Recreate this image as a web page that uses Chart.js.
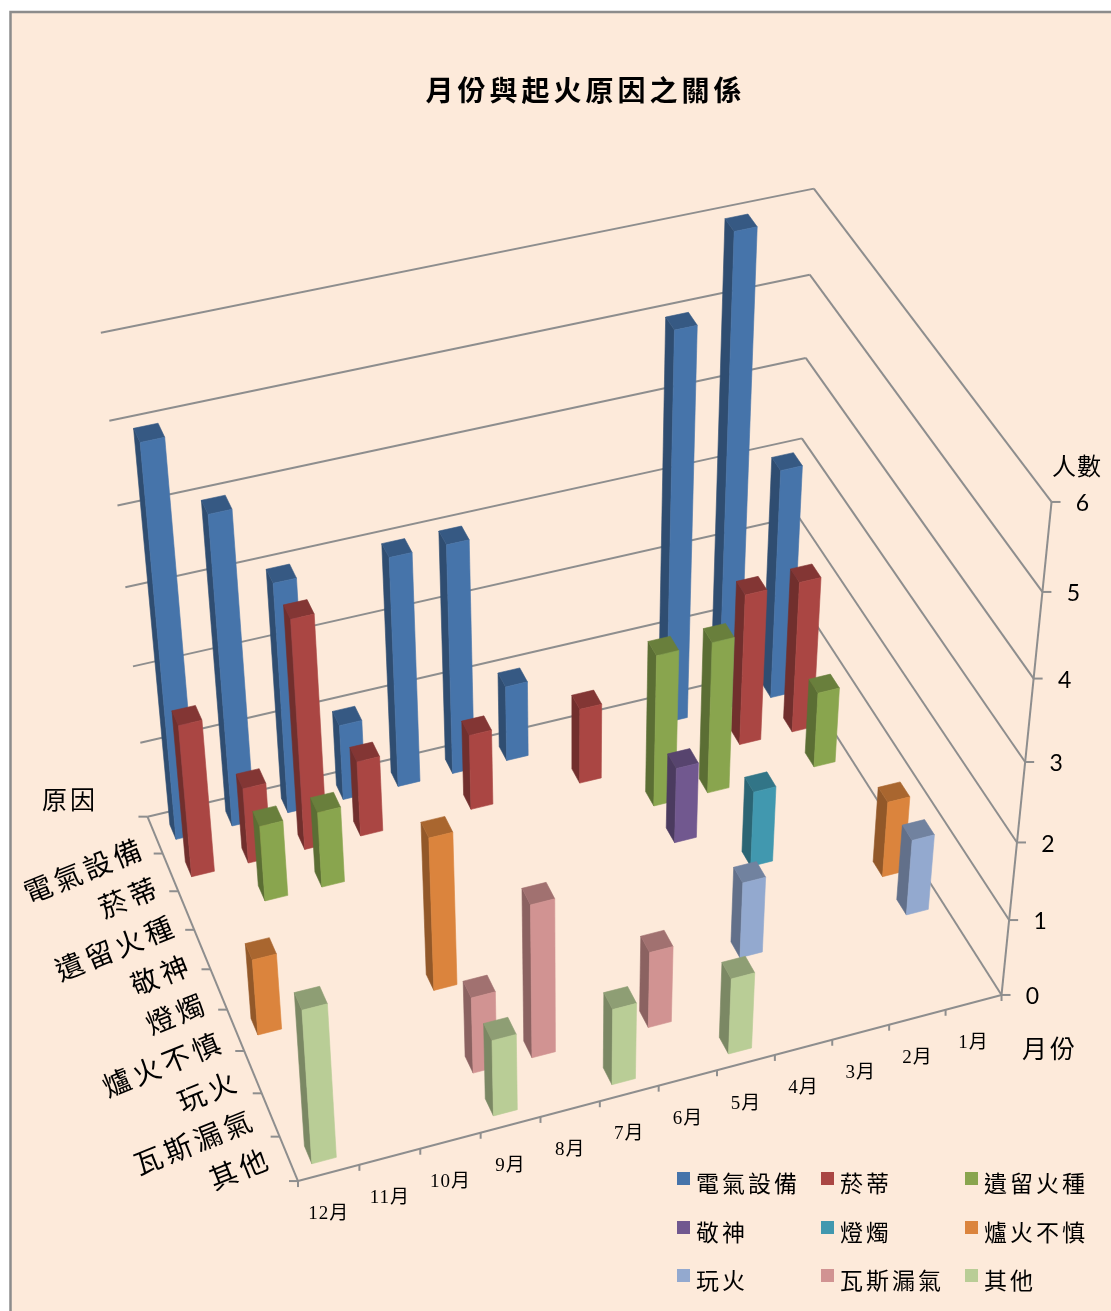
<!DOCTYPE html>
<html>
<head>
<meta charset="utf-8">
<title>月份與起火原因之關係</title>
<script src="https://cdn.jsdelivr.net/npm/chart.js@4/dist/chart.umd.min.js"></script>
<style>
  html, body { margin: 0; padding: 0; background: #fff; }
  canvas { display: block; }
</style>
</head>
<body>
<canvas id="fire-chart" width="1111" height="1311"></canvas>
<script>
const months = ['1月', '2月', '3月', '4月', '5月', '6月', '7月', '8月', '9月', '10月', '11月', '12月'];
const causes = ['電氣設備', '菸蒂', '遺留火種', '敬神', '燈燭', '爐火不慎', '玩火', '瓦斯漏氣', '其他'];

// one list per cause, January to December
const electrical = [3, 6, 5, null, null, 1, 3, 3, 1, 3, 4, 5];
const cigarette = [2, 2, null, null, 1, null, 1, null, 1, 3, 1, 2];
const leftoverEmber = [1, null, 2, 2, null, null, null, null, null, 1, 1, null];
const worship = [null, null, null, 1, null, null, null, null, null, null, null, null];
const candle = [null, null, 1, null, null, null, null, null, null, null, null, null];
const stove = [1, null, null, null, null, null, null, null, 2, null, null, 1];
const playingFire = [1, null, null, 1, null, null, null, null, null, null, null, null];
const gasLeak = [null, null, null, null, null, 1, null, 2, 1, null, null, null];
const other = [null, null, null, null, 1, null, 1, null, 1, null, null, 2];

const causeValues = [electrical, cigarette, leftoverEmber, worship, candle, stove, playingFire, gasLeak, other];
const causeColors = ['#4674AA', '#AA4643', '#89A54E', '#71588F', '#4198AF', '#DB843D', '#93A9CF', '#D19392', '#B9CD96'];

const CJK = '"Noto Sans CJK TC"';
const LINE = '#8E8E8E';

// Camera for the box: [u, w, v, px, py], u left->right, w back->front, v floor->top
const cameraRefs = [
  [0, 1, 0, 298, 1181], [1 / 6, 1, 0, 422, 1149], [1 / 2, 1, 0, 660, 1087], [5 / 6, 1, 0, 890, 1025], [1, 1, 0, 1001, 995],
  [0, 0, 0, 148, 816], [1, 0, 0, 790, 665],
  [0, 1 / 3, 0, 192, 929], [0, 2 / 3, 0, 243, 1050],
  [1, 1, 1 / 6, 1009, 920], [1, 1, 1 / 3, 1017, 842], [1, 1, 1 / 2, 1025, 762], [1, 1, 2 / 3, 1033, 678], [1, 1, 5 / 6, 1042, 592], [1, 1, 1, 1051, 502],
  [1, 0, 1 / 2, 802, 439], [1, 0, 2 / 3, 806, 357], [1, 0, 5 / 6, 810, 275], [1, 0, 1, 815, 188],
  [0, 0, 1 / 6, 141, 743], [0, 0, 1 / 3, 133, 666], [0, 0, 1 / 2, 126, 588], [0, 0, 2 / 3, 118, 506], [0, 0, 5 / 6, 109, 421], [0, 0, 1, 100, 333]
];

// least squares DLT with the last matrix entry fixed at 1
function fitCamera(refs) {
  const n = 11;
  const A = Array.from({ length: n }, () => new Array(n + 1).fill(0));
  const add = (row, rhs) => {
    for (let i = 0; i < n; i++) {
      for (let j = 0; j < n; j++) A[i][j] += row[i] * row[j];
      A[i][n] += row[i] * rhs;
    }
  };
  refs.forEach(([u, w, v, px, py]) => {
    const x = px / 1000;
    const y = py / 1000;
    add([u, w, v, 1, 0, 0, 0, 0, -x * u, -x * w, -x * v], x);
    add([0, 0, 0, 0, u, w, v, 1, -y * u, -y * w, -y * v], y);
  });
  for (let c = 0; c < n; c++) {
    let best = c;
    for (let r = c + 1; r < n; r++) if (Math.abs(A[r][c]) > Math.abs(A[best][c])) best = r;
    [A[c], A[best]] = [A[best], A[c]];
    for (let r = 0; r < n; r++) {
      if (r === c) continue;
      const f = A[r][c] / A[c][c];
      for (let k = c; k <= n; k++) A[r][k] -= f * A[c][k];
    }
  }
  return A.map((row, i) => row[n] / row[i]);
}

const cam = fitCamera(cameraRefs);

function project(u, w, v) {
  const d = cam[8] * u + cam[9] * w + cam[10] * v + 1;
  return [
    1000 * (cam[0] * u + cam[1] * w + cam[2] * v + cam[3]) / d,
    1000 * (cam[4] * u + cam[5] * w + cam[6] * v + cam[7]) / d
  ];
}

function shade(hex, k) {
  const n = parseInt(hex.slice(1), 16);
  const c = [n >> 16, (n >> 8) & 255, n & 255].map((p) => Math.round(p * k));
  return `rgb(${c[0]},${c[1]},${c[2]})`;
}

function fillFace(ctx, pts, color) {
  ctx.beginPath();
  pts.forEach((p, i) => (i ? ctx.lineTo(p[0], p[1]) : ctx.moveTo(p[0], p[1])));
  ctx.closePath();
  ctx.fillStyle = color;
  ctx.strokeStyle = color;
  ctx.lineWidth = 0.6;
  ctx.fill();
  ctx.stroke();
}

function segment(ctx, a, b) {
  ctx.beginPath();
  ctx.moveTo(a[0], a[1]);
  ctx.lineTo(b[0], b[1]);
  ctx.stroke();
}

const uOf = (s, px) => (px - s.left) / s.width;
const vOf = (s, val) => (s.bottom - s.getPixelForValue(val)) / s.height;

// bar controller that paints each value as a projected box
class Bar3dController extends Chart.BarController {
  static id = 'bar3d';

  draw() {
    const { ctx, scales } = this.chart;
    const { x, y, z } = scales;
    const color = this.getDataset().backgroundColor;
    const rowPx = z.getPixelForValue(this.index);
    const halfRow = z.width / causes.length * 0.2;
    const halfCol = x.width / months.length * 0.2;
    const wBack = uOf(z, rowPx - halfRow);
    const wFront = uOf(z, rowPx + halfRow);

    ctx.save();
    ctx.translate(1, 1);
    for (let i = months.length - 1; i >= 0; i--) {
      const val = this.getParsed(i).y;
      if (!val) continue;
      const px = x.getPixelForValue(i);
      const uL = uOf(x, px - halfCol);
      const uR = uOf(x, px + halfCol);
      const top = vOf(y, val);
      fillFace(ctx, [project(uL, wBack, 0), project(uL, wFront, 0), project(uL, wFront, top), project(uL, wBack, top)], shade(color, 0.665));
      fillFace(ctx, [project(uL, wBack, top), project(uR, wBack, top), project(uR, wFront, top), project(uL, wFront, top)], shade(color, 0.77));
      fillFace(ctx, [project(uL, wFront, 0), project(uR, wFront, 0), project(uR, wFront, top), project(uL, wFront, top)], color);
    }
    ctx.restore();
  }
}
Chart.register(Bar3dController);

const spacedText = (ctx, text, x, y, font, spacing, align) => {
  ctx.font = font;
  ctx.letterSpacing = spacing + 'px';
  ctx.textAlign = align;
  ctx.textBaseline = 'middle';
  ctx.fillStyle = '#000';
  ctx.fillText(text, x, y);
  ctx.letterSpacing = '0px';
};

// panel, walls, axes, tick labels and the three-column key
const boxFrame = {
  id: 'boxFrame',
  beforeDraw(chart) {
    const { ctx, width, height } = chart;
    ctx.save();
    ctx.fillStyle = '#FDEADA';
    ctx.fillRect(11, 12, width, height);
    ctx.strokeStyle = '#8C8C8C';
    ctx.lineWidth = 2.5;
    ctx.beginPath();
    ctx.moveTo(10.5, height + 4);
    ctx.lineTo(10.5, 12);
    ctx.lineTo(width + 4, 12);
    ctx.stroke();
    ctx.restore();
    // picked up by the title box, cleared again before the bars
    ctx.letterSpacing = '4px';
  },
  beforeDatasetsDraw(chart) {
    const { ctx, scales } = chart;
    const { x, y, z } = scales;
    ctx.letterSpacing = '0px';
    ctx.save();
    ctx.strokeStyle = LINE;
    ctx.lineWidth = 2;

    // grid lines on the back and right walls
    y.ticks.forEach((t) => {
      const v = vOf(y, t.value);
      segment(ctx, project(0, 0, v), project(1, 0, v));
      segment(ctx, project(1, 0, v), project(1, 1, v));
    });
    // axis edges
    segment(ctx, project(0, 0, 0), project(0, 1, 0));
    segment(ctx, project(0, 1, 0), project(1, 1, 0));
    segment(ctx, project(1, 1, 0), project(1, 1, 1));

    // value ticks
    y.ticks.forEach((t) => {
      const p = project(1, 1, vOf(y, t.value));
      segment(ctx, p, [p[0] + 9, p[1]]);
      spacedText(ctx, String(t.value), p[0] + 31, p[1] + 2, '23px Lato', 0, 'center');
    });

    // month ticks along the front edge
    for (let i = 0; i <= months.length; i++) {
      const p = project(i / months.length, 1, 0);
      segment(ctx, p, [p[0], p[1] + 6]);
    }
    x.ticks.forEach((t, i) => {
      const p = project(uOf(x, x.getPixelForTick(i)), 1, 0);
      spacedText(ctx, t.label, p[0], p[1] + 41, '19px "Liberation Serif", ' + CJK, 1, 'center');
    });

    // cause ticks down the left edge
    for (let i = 0; i <= causes.length; i++) {
      const p = project(0, i / causes.length, 0);
      segment(ctx, p, [p[0] - 9, p[1]]);
    }
    // slanted cause labels sit on an evenly spaced line beside the edge
    causes.forEach((name, i) => {
      const t = uOf(z, z.getPixelForValue(i));
      ctx.save();
      ctx.translate(135.8 + 141.8 * t, 826.9 + 348.8 * t);
      ctx.rotate(-22 * Math.PI / 180);
      spacedText(ctx, name, 0, 0, '28px ' + CJK, 4, 'right');
      ctx.restore();
    });

    // axis names
    spacedText(ctx, '人數', 1077, 466, '24px ' + CJK, 1, 'center');
    spacedText(ctx, '月份', 1050, 1048, '25px ' + CJK, 3, 'center');
    spacedText(ctx, '原因', 70, 799, '25px ' + CJK, 3, 'center');

    // key
    const keyCols = [677, 821, 965];
    const keyRows = [1172, 1221, 1269];
    chart.data.datasets.forEach((ds, i) => {
      const kx = keyCols[i % 3];
      const ky = keyRows[Math.floor(i / 3)];
      ctx.fillStyle = ds.backgroundColor;
      ctx.fillRect(kx, ky, 13, 13);
      spacedText(ctx, ds.label, kx + 19, ky + 11, '23px ' + CJK, 3, 'left');
    });
    ctx.restore();
  }
};

new Chart(document.getElementById('fire-chart'), {
  type: 'bar',
  data: {
    labels: months,
    datasets: causes.map((name, i) => ({
      type: 'bar3d',
      label: name,
      data: causeValues[i],
      backgroundColor: causeColors[i],
      order: causes.length - i,
      clip: false
    }))
  },
  options: {
    responsive: false,
    animation: false,
    events: [],
    layout: { padding: { left: 60 } },
    plugins: {
      legend: { display: false },
      tooltip: { enabled: false },
      title: {
        display: true,
        text: '月份與起火原因之關係',
        color: '#000',
        font: { family: CJK, size: 28, weight: 'bold' },
        padding: { top: 74, bottom: 10 }
      }
    },
    scales: {
      x: { type: 'category', reverse: true, offset: true, display: false },
      y: { type: 'linear', min: 0, max: 6, ticks: { stepSize: 1 }, display: false },
      z: { type: 'category', axis: 'x', labels: causes, offset: true, display: false }
    }
  },
  plugins: [boxFrame]
});
</script>
</body>
</html>
